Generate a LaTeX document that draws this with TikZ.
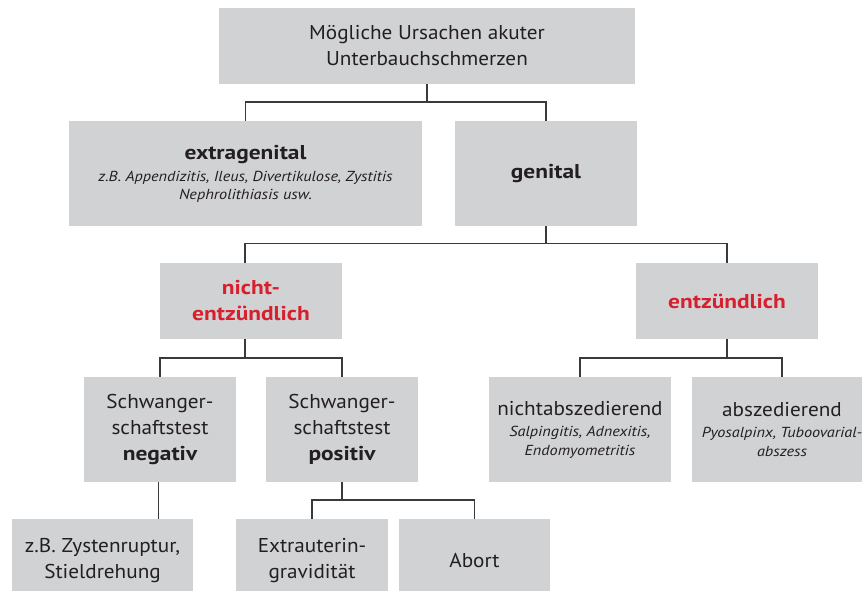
\documentclass[tikz,border=0pt]{standalone}
\usepackage{fontspec}
\setmainfont{PT Sans}[FakeStretch=1.06]
\newfontfamily\boldfam{PT Sans}[FakeStretch=1.17]
\newfontfamily\itfam{PT Sans}[FakeStretch=1.12]
\definecolor{boxgray}{HTML}{D1D2D4}
\definecolor{txt}{HTML}{231F20}
\definecolor{redtxt}{HTML}{D7202E}
\definecolor{linegray}{HTML}{3A3A3A}
\newcommand\mainsz{\fontsize{20}{26}\selectfont}
\newcommand\itsz{\fontsize{14.5}{18}\selectfont\itfam\itshape}
\newcommand\bt[1]{{\boldfam\bfseries #1}}
\begin{document}
\begin{tikzpicture}[x=1pt,y=-1pt,
  box/.style={fill=boxgray, inner sep=0pt, align=center, text=txt, font=\mainsz},
  redbox/.style={box, text=redtxt, font=\mainsz\boldfam\bfseries},
  conn/.style={draw=linegray, line width=1.2pt}]
\useasboundingbox (0,0) rectangle (862,591);
% row 0
\node[box, minimum width=416pt, minimum height=76pt] (top) at (427,46)
  {Mögliche Ursachen akuter\\Unterbauchschmerzen};
% row 1
\node[box, minimum width=353pt, minimum height=105pt] (extra) at (245.5,173.5)
  {\bt{extragenital}\\[-4pt]{\itsz z.B. Appendizitis, Ileus, Divertikulose, Zystitis}\\[-8pt]{\itsz Nephrolithiasis usw.}};
\node[box, minimum width=182pt, minimum height=105pt] (gen) at (546,173.5)
  {\bt{genital}};
% row 2
\node[redbox, minimum width=182pt, minimum height=76pt] (nicht) at (251,301)
  {nicht-\\entzündlich};
\node[redbox, minimum width=182pt, minimum height=76pt] (entz) at (727,301)
  {entzündlich};
% row 3
\node[box, minimum width=152pt, minimum height=105pt] (neg) at (160,429.5)
  {Schwanger-\\schaftstest\\\bt{negativ}};
\node[box, minimum width=152pt, minimum height=105pt] (pos) at (342,429.5)
  {Schwanger-\\schaftstest\\\bt{positiv}};
\node[box, minimum width=182pt, minimum height=105pt] (nabs) at (580,429.5)
  {nichtabszedierend\\[-5pt]{\itsz Salpingitis, Adnexitis,}\\[-7pt]{\itsz Endomyometritis}};
\node[box, minimum width=180pt, minimum height=105pt] (abs) at (782,429.5)
  {abszedierend\\[-5pt]{\itsz Pyosalpinx, Tuboovarial-}\\[-7pt]{\itsz abszess}};
% row 4
\node[box, minimum width=181pt, minimum height=84pt] (zyst) at (102.5,561)
  {z.B. Zystenruptur,\\Stieldrehung};
\node[box, minimum width=152pt, minimum height=84pt] (eug) at (312,561)
  {Extrauterin-\\gravidität};
\node[box, minimum width=151pt, minimum height=84pt] (abort) at (474.5,561)
  {Abort};
% connectors
\draw[conn] (top.south) -- (top.south |- 0,102) -| (extra.north);
\draw[conn] (top.south |- 0,102) -| (gen.north);
\coordinate (nichttop) at ([xshift=-6pt]nicht.north);
\coordinate (nichtbot) at ([xshift=-6pt]nicht.south);
\draw[conn] (gen.south) -- (gen.south |- 0,243.5) -| (nichttop);
\draw[conn] (gen.south |- 0,243.5) -| (entz.north);
\draw[conn] (nichtbot) -- (nichtbot |- 0,358) -| (neg.north);
\draw[conn] (nichtbot |- 0,358) -| (pos.north);
\draw[conn] (entz.south) -- (entz.south |- 0,358) -| (nabs.north);
\draw[conn] (entz.south |- 0,358) -| (abs.north);
\coordinate (negbot) at ([xshift=-1.5pt]neg.south);
\draw[conn] (negbot) -- (negbot |- zyst.north);
\draw[conn] (pos.south) -- (pos.south |- 0,500) -| (eug.north);
\draw[conn] (pos.south |- 0,500) -| (abort.north);
\end{tikzpicture}
\end{document}
